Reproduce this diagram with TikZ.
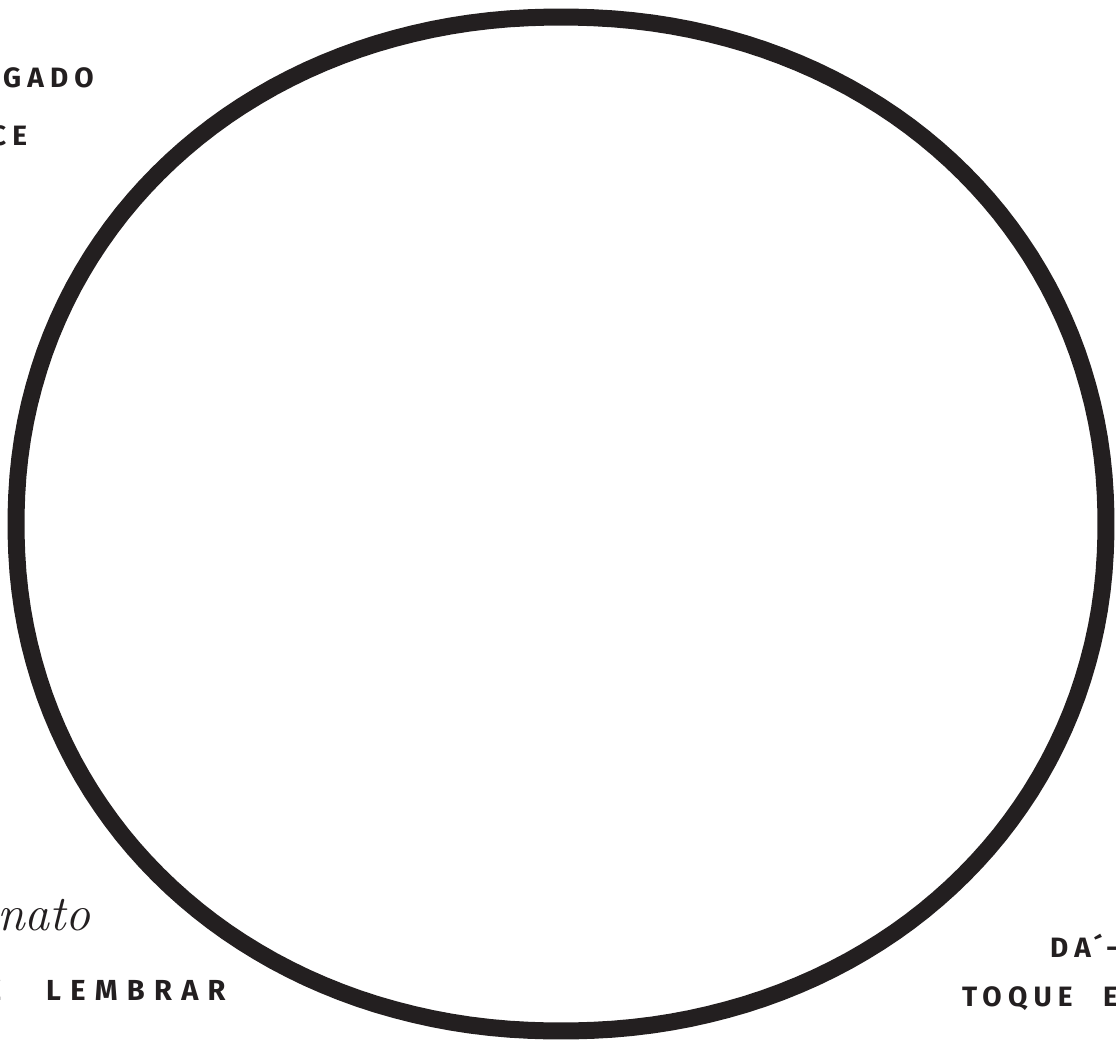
\documentclass[tikz,border=0pt]{standalone}
\usepackage{fontspec}
\newfontfamily\handfont[LetterSpace=32]{Fira Sans}
\newfontfamily\handfontn[LetterSpace=22]{Fira Sans}
\definecolor{ink}{HTML}{231F20}
\tikzset{
  ring/.style={draw=ink, line width=17pt, line join=round},
  caps/.style={text=ink, inner sep=0pt, anchor=base west, font=\handfont\bfseries\fontsize{29}{29}\selectfont},
  capsn/.style={text=ink, inner sep=0pt, anchor=base west, font=\handfontn\bfseries\fontsize{28}{28}\selectfont},
  script/.style={text=ink, inner sep=0pt, anchor=base west, font=\itshape\fontsize{50}{50}\selectfont}
}
\begin{document}
\begin{tikzpicture}[x=1pt,y=-1pt]
\useasboundingbox (0,0) rectangle (1116,1041);
\begin{scope}
\clip (0,0) rectangle (1116,1041);
\draw[ring] plot[domain=1:359, samples=180, variable=\t]
  ({561+545*cos(\t)/abs(cos(\t))*pow(abs(cos(\t)),0.965)},
   {524+507*sin(\t)/abs(sin(\t))*pow(abs(sin(\t)),0.965)}) -- cycle;
\node[capsn] (t1) at (3,88) {GADO};
\node[capsn] (t2) at (-10,145) {CE};
\node[caps] (t3a) at (-14,1000) {E};
\node[caps] (t3) at (46,1000) {LEMBRAR};
\node[script] (t4) at (-3,930) {nato};
\node[capsn] (t5) at (1050,957) {DA};
\node[capsn] (t5b) at (1096,957) {\'{}};
\node[capsn] (t5c) at (1106,957) {-};
\node[capsn] (t6) at (962,1006) {TOQUE};
\node[capsn] (t6b) at (1103,1006) {E};
\end{scope}
\end{tikzpicture}
\end{document}
